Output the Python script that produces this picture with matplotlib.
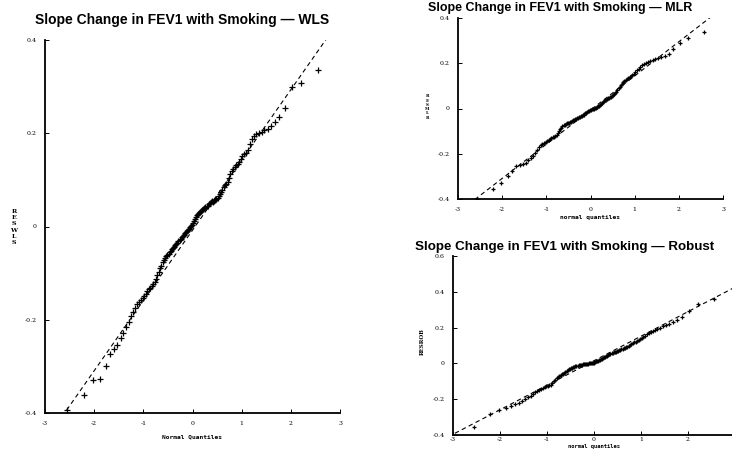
import matplotlib
matplotlib.use("Agg")
import matplotlib.pyplot as plt
from statistics import NormalDist

# ---------------- data (sorted residuals) ----------------
wls_resid = [
    -0.394, -0.361, -0.330, -0.328, -0.300, -0.273, -0.262, -0.255, -0.240, -0.228,
    -0.215, -0.204, -0.192, -0.183, -0.175, -0.167, -0.161, -0.157, -0.153, -0.148,
    -0.144, -0.138, -0.134, -0.131, -0.128, -0.124, -0.120, -0.112, -0.104, -0.097,
    -0.090, -0.084, -0.077, -0.072, -0.068, -0.064, -0.061, -0.058, -0.055, -0.052,
    -0.049, -0.046, -0.043, -0.040, -0.038, -0.035, -0.032, -0.029, -0.026, -0.023,
    -0.020, -0.018, -0.015, -0.012, -0.010, -0.008, -0.005, -0.002, 0.001, 0.004,
    0.008, 0.012, 0.016, 0.020, 0.024, 0.027, 0.029, 0.031, 0.033, 0.035,
    0.037, 0.039, 0.041, 0.043, 0.045, 0.048, 0.051, 0.053, 0.055, 0.053,
    0.055, 0.057, 0.059, 0.062, 0.066, 0.070, 0.074, 0.079, 0.084, 0.088,
    0.092, 0.096, 0.104, 0.112, 0.118, 0.124, 0.128, 0.131, 0.134, 0.138,
    0.145, 0.152, 0.155, 0.158, 0.164, 0.176, 0.188, 0.195, 0.198, 0.200,
    0.203, 0.206, 0.210, 0.216, 0.225, 0.234, 0.254, 0.300, 0.307, 0.335,
]
mlr_resid = [
    -0.400, -0.356, -0.328, -0.300, -0.275, -0.256, -0.250, -0.245, -0.240, -0.228,
    -0.218, -0.208, -0.196, -0.182, -0.168, -0.160, -0.156, -0.152, -0.148, -0.144,
    -0.140, -0.136, -0.132, -0.128, -0.125, -0.122, -0.119, -0.110, -0.098, -0.090,
    -0.084, -0.078, -0.074, -0.071, -0.068, -0.066, -0.064, -0.062, -0.060, -0.058,
    -0.056, -0.053, -0.050, -0.047, -0.045, -0.043, -0.041, -0.039, -0.037, -0.035,
    -0.033, -0.030, -0.027, -0.024, -0.021, -0.018, -0.015, -0.012, -0.010, -0.008,
    -0.006, -0.004, -0.002, 0.000, 0.002, 0.004, 0.006, 0.008, 0.010, 0.013,
    0.017, 0.021, 0.025, 0.029, 0.033, 0.036, 0.039, 0.042, 0.045, 0.048,
    0.050, 0.053, 0.056, 0.060, 0.064, 0.069, 0.075, 0.082, 0.090, 0.097,
    0.104, 0.110, 0.116, 0.121, 0.126, 0.130, 0.134, 0.138, 0.142, 0.147,
    0.153, 0.160, 0.168, 0.176, 0.184, 0.191, 0.197, 0.202, 0.206, 0.210,
    0.214, 0.218, 0.222, 0.227, 0.233, 0.240, 0.262, 0.290, 0.310, 0.337,
]
rob_resid = [
    -0.356, -0.282, -0.262, -0.250, -0.236, -0.226, -0.220, -0.212, -0.200, -0.188,
    -0.180, -0.170, -0.160, -0.152, -0.146, -0.141, -0.136, -0.131, -0.127, -0.124,
    -0.122, -0.118, -0.110, -0.100, -0.090, -0.082, -0.076, -0.071, -0.066, -0.061,
    -0.057, -0.053, -0.048, -0.043, -0.038, -0.034, -0.030, -0.027, -0.024, -0.021,
    -0.019, -0.017, -0.015, -0.013, -0.011, -0.009, -0.008, -0.007, -0.006, -0.005,
    -0.004, -0.003, -0.002, -0.001, 0.000, 0.001, 0.002, 0.003, 0.004, 0.005,
    0.007, 0.009, 0.011, 0.013, 0.015, 0.018, 0.021, 0.024, 0.027, 0.030,
    0.033, 0.036, 0.040, 0.044, 0.048, 0.052, 0.055, 0.058, 0.060, 0.062,
    0.064, 0.066, 0.068, 0.070, 0.073, 0.076, 0.079, 0.082, 0.085, 0.088,
    0.091, 0.094, 0.098, 0.102, 0.107, 0.112, 0.117, 0.122, 0.127, 0.132,
    0.137, 0.143, 0.149, 0.155, 0.162, 0.169, 0.176, 0.182, 0.188, 0.194,
    0.200, 0.207, 0.214, 0.222, 0.230, 0.240, 0.262, 0.295, 0.330, 0.360,
]

# reference lines: intercept, slope, x start, x end
wls_ref = (-0.008, 0.1507, -2.56, 3.0)
mlr_ref = (-0.007, 0.151, -2.62, 3.0)
rob_ref = (0.015, 0.137, -2.96, 2.95)

titles = [
    "Slope Change in FEV1 with Smoking \u2014 WLS",
    "Slope Change in FEV1 with Smoking \u2014 MLR",
    "Slope Change in FEV1 with Smoking \u2014 Robust",
]
x_ticks = [-3, -2, -1, 0, 1, 2, 3]
x_ticklabels = ["-3", "-2", "-1", "0", "1", "2", "3"]
x_ticks_rob = [-3, -2, -1, 0, 1, 2]
x_ticklabels_rob = ["-3", "-2", "-1", "0", "1", "2"]
y_ticks_wls = [-0.4, -0.2, 0, 0.2, 0.4]
y_ticklabels_wls = ["-0.4", "-0.2", "0", "0.2", "0.4"]
y_ticks_rob = [-0.4, -0.2, 0, 0.2, 0.4, 0.6]
y_ticklabels_rob = ["-0.4", "-0.2", "0", "0.2", "0.4", "0.6"]
ylabels = ["RESWLS", "RESMLR", "RESROB"]
xlabels = ["Normal Quantiles", "normal quantiles", "normal quantiles"]


def blom(n):
    nd = NormalDist()
    return [nd.inv_cdf((i - 0.375) / (n + 0.25)) for i in range(1, n + 1)]


fig = plt.figure(figsize=(7.32, 4.5), dpi=100)
W, H = 732.0, 450.0


def make_ax(x0, x1, ybot, ytop):
    return fig.add_axes([x0 / W, 1 - ybot / H, (x1 - x0) / W, (ybot - ytop) / H])


ax1 = make_ax(45, 340, 413, 40)
ax2 = make_ax(458, 723, 199, 18)
ax3 = make_ax(453, 735, 435, 256)

tick_font = dict(family="DejaVu Serif", size=4.5)


def style(ax, xt, xtl, yt, ytl, ylim, lw, xpad=6):
    ax.set_xlim(-3, 3)
    ax.set_ylim(*ylim)
    for s in ("top", "right"):
        ax.spines[s].set_visible(False)
    for s in ("left", "bottom"):
        ax.spines[s].set_linewidth(lw)
    ax.set_xticks(xt)
    ax.set_xticklabels(xtl, fontdict=tick_font)
    ax.set_yticks(yt)
    ax.set_yticklabels(ytl, fontdict=tick_font)
    ax.tick_params(direction="in", length=3, width=0.7, pad=6)
    ax.tick_params(axis="x", pad=xpad)
    ax.patch.set_alpha(0)


def draw(ax, resid, ref, ms, mew):
    q = blom(len(resid))
    a, b, xs, xe = ref
    ax.plot([xs, xe], [a + b * xs, a + b * xe], color="black", lw=0.8,
            linestyle=(0, (4, 3)), clip_on=True)
    ax.plot(q, resid, linestyle="none", marker="+", ms=ms, mew=mew,
            color="black")


draw(ax1, wls_resid, wls_ref, 4.5, 0.9)
style(ax1, x_ticks, x_ticklabels, y_ticks_wls, y_ticklabels_wls, (-0.4, 0.4), 1.3)
draw(ax2, mlr_resid, mlr_ref, 2.8, 0.9)
style(ax2, x_ticks, x_ticklabels, y_ticks_wls, y_ticklabels_wls, (-0.4, 0.4), 1.3)
draw(ax3, rob_resid, rob_ref, 2.8, 0.9)
style(ax3, x_ticks_rob, x_ticklabels_rob, y_ticks_rob, y_ticklabels_rob,
      (-0.4, 0.6), 1.3, xpad=1.5)

title_font = dict(family="Liberation Sans", weight="bold")
fig.text(35 / W, 1 - 20 / H, titles[0], ha="left", va="center", fontsize=10.0,
         **title_font)
fig.text(428 / W, 1 - 8 / H, titles[1], ha="left", va="center", fontsize=9.0,
         **title_font)
fig.text(415 / W, 1 - 247 / H, titles[2], ha="left", va="center", fontsize=9.6,
         **title_font)

lab_font = dict(family="DejaVu Sans Mono", size=4.5, weight="bold")
ax1.set_xlabel(xlabels[0], fontdict=lab_font, labelpad=6)
ax2.set_xlabel(xlabels[1], fontdict=lab_font, labelpad=2)
fig.text(594 / W, 1 - 446.5 / H, xlabels[2], ha="center", va="center",
         fontsize=4.0, family="DejaVu Sans Mono", weight="bold")

fig.text(14 / W, 1 - 227 / H, "\n".join(ylabels[0]), ha="center", va="center",
         fontsize=4.5, family="DejaVu Serif", weight="bold", linespacing=1.3)
fig.text(427 / W, 1 - 107 / H, "\n".join(ylabels[1]), ha="center", va="center",
         fontsize=3.0, family="DejaVu Serif", weight="bold", linespacing=1.1)
fig.text(422 / W, 1 - 342 / H, ylabels[2], ha="center", va="center",
         fontsize=4.0, family="DejaVu Serif", weight="bold", rotation=90)

fig.savefig("out.png", dpi=100)
